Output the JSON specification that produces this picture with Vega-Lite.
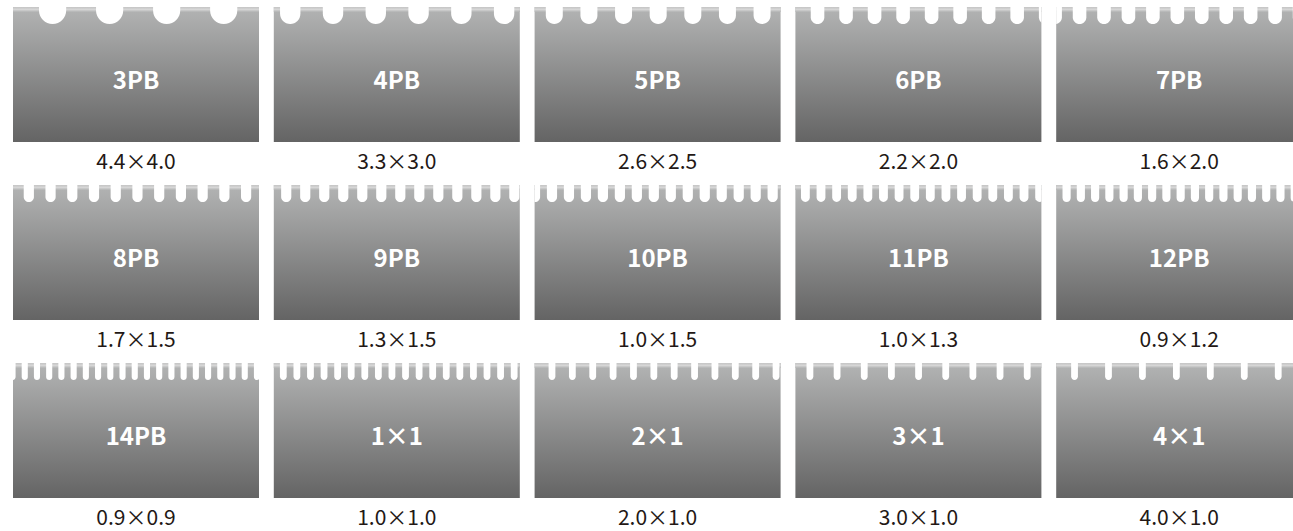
{
  "$schema": "https://vega.github.io/schema/vega-lite/v6.json",
  "background": "white",
  "padding": {"left": 13, "top": 7, "right": 0, "bottom": 0},
  "datasets": {
    "tiles": [
      {"name": "3PB", "cap": "4.4×4.0", "i": 1},
      {"name": "4PB", "cap": "3.3×3.0", "i": 2},
      {"name": "5PB", "cap": "2.6×2.5", "i": 3},
      {"name": "6PB", "cap": "2.2×2.0", "i": 4},
      {"name": "7PB", "cap": "1.6×2.0", "i": 5},
      {"name": "8PB", "cap": "1.7×1.5", "i": 6},
      {"name": "9PB", "cap": "1.3×1.5", "i": 7},
      {"name": "10PB", "cap": "1.0×1.5", "i": 8},
      {"name": "11PB", "cap": "1.0×1.3", "i": 9},
      {"name": "12PB", "cap": "0.9×1.2", "i": 10},
      {"name": "14PB", "cap": "0.9×0.9", "i": 11},
      {"name": "1×1", "cap": "1.0×1.0", "i": 12},
      {"name": "2×1", "cap": "2.0×1.0", "i": 13},
      {"name": "3×1", "cap": "3.0×1.0", "i": 14},
      {"name": "4×1", "cap": "4.0×1.0", "i": 15}
    ],
    "notches": [
      {"t": "3PB", "s": 3.83, "e": 7.83}, {"t": "3PB", "s": 12.23, "e": 16.23}, {"t": "3PB", "s": 20.63, "e": 24.63}, {"t": "3PB", "s": 29.03, "e": 33.03},
      {"t": "4PB", "s": 0.92, "e": 3.92}, {"t": "4PB", "s": 7.22, "e": 10.22}, {"t": "4PB", "s": 13.52, "e": 16.52}, {"t": "4PB", "s": 19.82, "e": 22.82}, {"t": "4PB", "s": 26.12, "e": 29.12}, {"t": "4PB", "s": 32.42, "e": 35.42},
      {"t": "5PB", "s": 1.65, "e": 4.15}, {"t": "5PB", "s": 6.75, "e": 9.25}, {"t": "5PB", "s": 11.85, "e": 14.35}, {"t": "5PB", "s": 16.95, "e": 19.45}, {"t": "5PB", "s": 22.05, "e": 24.55}, {"t": "5PB", "s": 27.15, "e": 29.65}, {"t": "5PB", "s": 32.25, "e": 34.75},
      {"t": "6PB", "s": 2.26, "e": 4.26}, {"t": "6PB", "s": 6.46, "e": 8.46}, {"t": "6PB", "s": 10.66, "e": 12.66}, {"t": "6PB", "s": 14.86, "e": 16.86}, {"t": "6PB", "s": 19.06, "e": 21.06}, {"t": "6PB", "s": 23.26, "e": 25.26}, {"t": "6PB", "s": 27.46, "e": 29.46}, {"t": "6PB", "s": 31.66, "e": 33.66}, {"t": "6PB", "s": 35.86, "e": 37.86},
      {"t": "7PB", "s": -1.16, "e": 0.84}, {"t": "7PB", "s": 2.44, "e": 4.44}, {"t": "7PB", "s": 6.04, "e": 8.04}, {"t": "7PB", "s": 9.64, "e": 11.64}, {"t": "7PB", "s": 13.24, "e": 15.24}, {"t": "7PB", "s": 16.84, "e": 18.84}, {"t": "7PB", "s": 20.44, "e": 22.44}, {"t": "7PB", "s": 24.04, "e": 26.04}, {"t": "7PB", "s": 27.64, "e": 29.64}, {"t": "7PB", "s": 31.24, "e": 33.24}, {"t": "7PB", "s": 34.84, "e": 36.84},
      {"t": "8PB", "s": 1.58, "e": 3.08}, {"t": "8PB", "s": 4.78, "e": 6.28}, {"t": "8PB", "s": 7.98, "e": 9.48}, {"t": "8PB", "s": 11.18, "e": 12.68}, {"t": "8PB", "s": 14.38, "e": 15.88}, {"t": "8PB", "s": 17.58, "e": 19.08}, {"t": "8PB", "s": 20.78, "e": 22.28}, {"t": "8PB", "s": 23.98, "e": 25.48}, {"t": "8PB", "s": 27.18, "e": 28.68}, {"t": "8PB", "s": 30.38, "e": 31.88}, {"t": "8PB", "s": 33.58, "e": 35.08},
      {"t": "9PB", "s": 1.08, "e": 2.58}, {"t": "9PB", "s": 3.88, "e": 5.38}, {"t": "9PB", "s": 6.68, "e": 8.18}, {"t": "9PB", "s": 9.48, "e": 10.98}, {"t": "9PB", "s": 12.28, "e": 13.78}, {"t": "9PB", "s": 15.08, "e": 16.58}, {"t": "9PB", "s": 17.88, "e": 19.38}, {"t": "9PB", "s": 20.68, "e": 22.18}, {"t": "9PB", "s": 23.48, "e": 24.98}, {"t": "9PB", "s": 26.28, "e": 27.78}, {"t": "9PB", "s": 29.08, "e": 30.58}, {"t": "9PB", "s": 31.88, "e": 33.38}, {"t": "9PB", "s": 34.68, "e": 36.18},
      {"t": "10PB", "s": -0.69, "e": 0.81}, {"t": "10PB", "s": 1.81, "e": 3.31}, {"t": "10PB", "s": 4.31, "e": 5.81}, {"t": "10PB", "s": 6.81, "e": 8.31}, {"t": "10PB", "s": 9.31, "e": 10.81}, {"t": "10PB", "s": 11.81, "e": 13.31}, {"t": "10PB", "s": 14.31, "e": 15.81}, {"t": "10PB", "s": 16.81, "e": 18.31}, {"t": "10PB", "s": 19.31, "e": 20.81}, {"t": "10PB", "s": 21.81, "e": 23.31}, {"t": "10PB", "s": 24.31, "e": 25.81}, {"t": "10PB", "s": 26.81, "e": 28.31}, {"t": "10PB", "s": 29.31, "e": 30.81}, {"t": "10PB", "s": 31.81, "e": 33.31}, {"t": "10PB", "s": 34.31, "e": 35.81},
      {"t": "11PB", "s": 0.82, "e": 2.12}, {"t": "11PB", "s": 3.12, "e": 4.42}, {"t": "11PB", "s": 5.42, "e": 6.72}, {"t": "11PB", "s": 7.72, "e": 9.02}, {"t": "11PB", "s": 10.02, "e": 11.32}, {"t": "11PB", "s": 12.32, "e": 13.62}, {"t": "11PB", "s": 14.62, "e": 15.92}, {"t": "11PB", "s": 16.92, "e": 18.22}, {"t": "11PB", "s": 19.22, "e": 20.52}, {"t": "11PB", "s": 21.52, "e": 22.82}, {"t": "11PB", "s": 23.82, "e": 25.12}, {"t": "11PB", "s": 26.12, "e": 27.42}, {"t": "11PB", "s": 28.42, "e": 29.72}, {"t": "11PB", "s": 30.72, "e": 32.02}, {"t": "11PB", "s": 33.02, "e": 34.32}, {"t": "11PB", "s": 35.32, "e": 36.62},
      {"t": "12PB", "s": 0.93, "e": 2.13}, {"t": "12PB", "s": 3.03, "e": 4.23}, {"t": "12PB", "s": 5.13, "e": 6.33}, {"t": "12PB", "s": 7.23, "e": 8.43}, {"t": "12PB", "s": 9.33, "e": 10.53}, {"t": "12PB", "s": 11.43, "e": 12.63}, {"t": "12PB", "s": 13.53, "e": 14.73}, {"t": "12PB", "s": 15.63, "e": 16.83}, {"t": "12PB", "s": 17.73, "e": 18.93}, {"t": "12PB", "s": 19.83, "e": 21.03}, {"t": "12PB", "s": 21.93, "e": 23.13}, {"t": "12PB", "s": 24.03, "e": 25.23}, {"t": "12PB", "s": 26.13, "e": 27.33}, {"t": "12PB", "s": 28.23, "e": 29.43}, {"t": "12PB", "s": 30.33, "e": 31.53}, {"t": "12PB", "s": 32.43, "e": 33.63}, {"t": "12PB", "s": 34.53, "e": 35.73},
      {"t": "14PB", "s": -0.52, "e": 0.38}, {"t": "14PB", "s": 1.28, "e": 2.18}, {"t": "14PB", "s": 3.08, "e": 3.98}, {"t": "14PB", "s": 4.88, "e": 5.78}, {"t": "14PB", "s": 6.68, "e": 7.58}, {"t": "14PB", "s": 8.48, "e": 9.38}, {"t": "14PB", "s": 10.28, "e": 11.18}, {"t": "14PB", "s": 12.08, "e": 12.98}, {"t": "14PB", "s": 13.88, "e": 14.78}, {"t": "14PB", "s": 15.68, "e": 16.58}, {"t": "14PB", "s": 17.48, "e": 18.38}, {"t": "14PB", "s": 19.28, "e": 20.18}, {"t": "14PB", "s": 21.08, "e": 21.98}, {"t": "14PB", "s": 22.88, "e": 23.78}, {"t": "14PB", "s": 24.68, "e": 25.58}, {"t": "14PB", "s": 26.48, "e": 27.38}, {"t": "14PB", "s": 28.28, "e": 29.18}, {"t": "14PB", "s": 30.08, "e": 30.98}, {"t": "14PB", "s": 31.88, "e": 32.78}, {"t": "14PB", "s": 33.68, "e": 34.58}, {"t": "14PB", "s": 35.48, "e": 36.38},
      {"t": "1×1", "s": 0.9, "e": 1.9}, {"t": "1×1", "s": 2.9, "e": 3.9}, {"t": "1×1", "s": 4.9, "e": 5.9}, {"t": "1×1", "s": 6.9, "e": 7.9}, {"t": "1×1", "s": 8.9, "e": 9.9}, {"t": "1×1", "s": 10.9, "e": 11.9}, {"t": "1×1", "s": 12.9, "e": 13.9}, {"t": "1×1", "s": 14.9, "e": 15.9}, {"t": "1×1", "s": 16.9, "e": 17.9}, {"t": "1×1", "s": 18.9, "e": 19.9}, {"t": "1×1", "s": 20.9, "e": 21.9}, {"t": "1×1", "s": 22.9, "e": 23.9}, {"t": "1×1", "s": 24.9, "e": 25.9}, {"t": "1×1", "s": 26.9, "e": 27.9}, {"t": "1×1", "s": 28.9, "e": 29.9}, {"t": "1×1", "s": 30.9, "e": 31.9}, {"t": "1×1", "s": 32.9, "e": 33.9}, {"t": "1×1", "s": 34.9, "e": 35.9},
      {"t": "2×1", "s": 2.06, "e": 3.06}, {"t": "2×1", "s": 5.06, "e": 6.06}, {"t": "2×1", "s": 8.06, "e": 9.06}, {"t": "2×1", "s": 11.06, "e": 12.06}, {"t": "2×1", "s": 14.06, "e": 15.06}, {"t": "2×1", "s": 17.06, "e": 18.06}, {"t": "2×1", "s": 20.06, "e": 21.06}, {"t": "2×1", "s": 23.06, "e": 24.06}, {"t": "2×1", "s": 26.06, "e": 27.06}, {"t": "2×1", "s": 29.06, "e": 30.06}, {"t": "2×1", "s": 32.06, "e": 33.06}, {"t": "2×1", "s": 35.06, "e": 36.06},
      {"t": "3×1", "s": 1.64, "e": 2.64}, {"t": "3×1", "s": 5.64, "e": 6.64}, {"t": "3×1", "s": 9.64, "e": 10.64}, {"t": "3×1", "s": 13.64, "e": 14.64}, {"t": "3×1", "s": 17.64, "e": 18.64}, {"t": "3×1", "s": 21.64, "e": 22.64}, {"t": "3×1", "s": 25.64, "e": 26.64}, {"t": "3×1", "s": 29.64, "e": 30.64}, {"t": "3×1", "s": 33.64, "e": 34.64},
      {"t": "4×1", "s": 2.2, "e": 3.2}, {"t": "4×1", "s": 7.2, "e": 8.2}, {"t": "4×1", "s": 12.2, "e": 13.2}, {"t": "4×1", "s": 17.2, "e": 18.2}, {"t": "4×1", "s": 22.2, "e": 23.2}, {"t": "4×1", "s": 27.2, "e": 28.2}, {"t": "4×1", "s": 32.2, "e": 33.2}
    ]
  },
  "data": {"name": "notches"},
  "transform": [
    {"lookup": "t", "from": {"data": {"name": "tiles"}, "key": "name", "fields": ["cap", "i"]}}
  ],
  "facet": {
    "field": "cap",
    "type": "nominal",
    "sort": {"field": "i", "op": "min"},
    "header": {
      "title": null,
      "labelOrient": "bottom",
      "labelFont": "Noto Sans CJK JP",
      "labelFontSize": 21,
      "labelColor": "#231815",
      "labelPadding": 10
    }
  },
  "columns": 5,
  "spacing": {"column": 14.8, "row": 12},
  "spec": {
    "width": 246,
    "height": 135,
    "view": {"stroke": null},
    "layer": [
      {
        "transform": [{"aggregate": [{"op": "count", "as": "n"}], "groupby": ["t"]}],
        "mark": {
          "type": "rect",
          "color": {"gradient": "linear", "x1": 0, "y1": 0, "x2": 0, "y2": 1,
            "stops": [{"offset": 0, "color": "#b3b4b4"}, {"offset": 1, "color": "#646464"}]}
        },
        "encoding": {"x": {"value": 0}, "x2": {"value": "width"}, "y": {"value": 0}, "y2": {"value": "height"}}
      },
      {
        "transform": [{"aggregate": [{"op": "count", "as": "n"}], "groupby": ["t"]}],
        "mark": {
          "type": "rect",
          "color": {"gradient": "linear", "x1": 0, "y1": 0, "x2": 0, "y2": 1,
            "stops": [{"offset": 0, "color": "#c4c4c4"}, {"offset": 0.5, "color": "#d6d6d6"}, {"offset": 1, "color": "#b2b3b3"}]}
        },
        "encoding": {"x": {"value": 0}, "x2": {"value": "width"}, "y": {"value": 0}, "y2": {"value": 5}}
      },
      {
        "mark": {"type": "rect", "color": "white", "clip": true, "cornerRadiusBottomLeft": 20, "cornerRadiusBottomRight": 20},
        "encoding": {
          "x": {"field": "s", "type": "quantitative", "scale": {"domain": [0, 36.23], "nice": false, "zero": false}, "axis": null},
          "x2": {"field": "e"},
          "y": {"value": -14},
          "y2": {"value": 17}
        }
      },
      {
        "transform": [{"aggregate": [{"op": "count", "as": "n"}], "groupby": ["t"]}],
        "mark": {"type": "text", "color": "white", "font": "Noto Sans CJK JP", "fontSize": 24, "fontWeight": "bold", "align": "center", "baseline": "middle", "dy": 7},
        "encoding": {"text": {"field": "t"}}
      }
    ]
  }
}
